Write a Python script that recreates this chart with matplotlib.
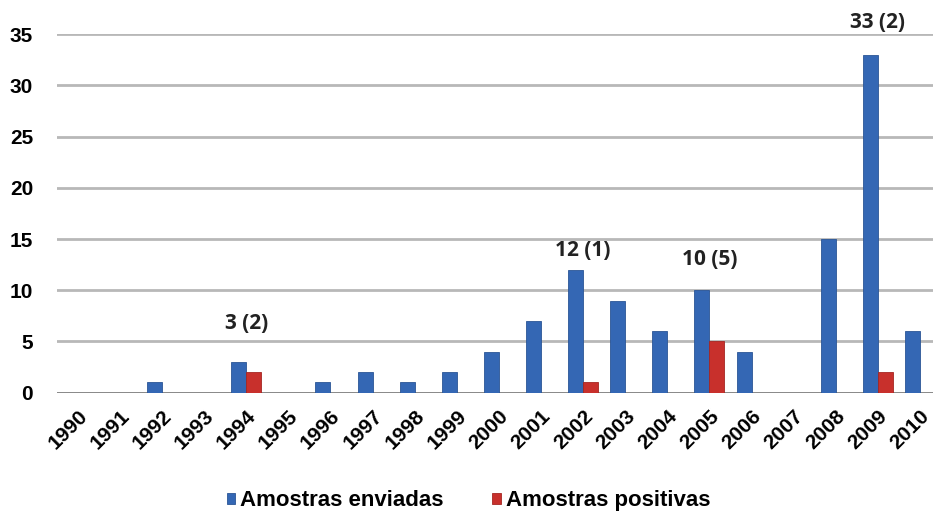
import numpy as np
import matplotlib
matplotlib.use("Agg")
import matplotlib.pyplot as plt

# data
years = [str(y) for y in range(1990, 2011)]
enviadas = [0, 0, 1, 0, 3, 0, 1, 2, 1, 2, 4, 7, 12, 9, 6, 10, 4, 0, 15, 33, 6]
positivas = [0, 0, 0, 0, 2, 0, 0, 0, 0, 0, 0, 0, 1, 0, 0, 5, 0, 0, 0, 2, 0]
notes = {"1994": ("3 (2)", 6.8), "2002": ("12 (1)", 13.9),
         "2005": ("10 (5)", 13.05), "2009": ("33 (2)", 36.2)}

blue = "#3467B4"
red = "#C8302C"

plt.rcParams['font.family'] = ['Liberation Sans', 'DejaVu Sans']

fig = plt.figure(figsize=(9.33, 5.18), dpi=100)
ax = fig.add_axes([0.0608, 0.2419, 0.9478, 0.6919])

x = np.arange(len(years))
w = 0.356
ax.bar(x - w / 2, enviadas, w, color=blue, edgecolor="#2A5596", linewidth=0.6,
       label="Amostras enviadas", zorder=3)
ax.bar(x + w / 2, positivas, w, color=red, edgecolor="#A52622", linewidth=0.6,
       label="Amostras positivas", zorder=3)

for yr, (txt, ypos) in notes.items():
    ax.text(years.index(yr), ypos, txt, ha="center", va="center",
            fontsize=15, fontweight="bold", family=["Open Sans", "DejaVu Sans"],
            color="#222222", clip_on=False)

ax.set_xlim(-0.5, 20.5)
ax.set_ylim(0, 35)
ax.set_yticks(range(0, 36, 5))
ax.yaxis.grid(True, color="#B8B8B8", linewidth=2, zorder=0)
ax.axhline(0, color="#7A7A7A", linewidth=1.8, zorder=2)
for s in ax.spines.values():
    s.set_visible(False)

ax.set_xticks(x)
ax.set_xticklabels(years, rotation=45, ha="right", va="top",
                   rotation_mode="anchor", fontsize=15, fontweight="bold")
ax.tick_params(axis="x", length=0, pad=10)
ax.tick_params(axis="y", length=0, pad=17, labelsize=15)
for lab in ax.get_yticklabels():
    lab.set_fontweight("bold")

fig.legend(loc="center", bbox_to_anchor=(0.502, 0.033), ncol=2, frameon=False,
           prop={"size": 16, "weight": "bold"}, handlelength=0.4,
           handleheight=0.4, handletextpad=0.2, columnspacing=2.2)

fig.savefig("out.png", dpi=100)
